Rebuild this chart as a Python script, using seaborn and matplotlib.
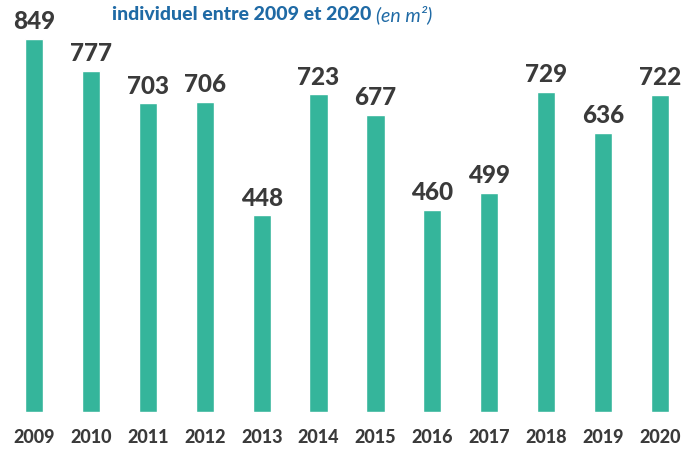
import matplotlib
matplotlib.use("Agg")
import matplotlib.pyplot as plt
import seaborn as sns
import pandas as pd

years = ["2009", "2010", "2011", "2012", "2013", "2014", "2015", "2016", "2017", "2018", "2019", "2020"]
values = [849, 777, 703, 706, 448, 723, 677, 460, 499, 729, 636, 722]
title_main = "individuel entre 2009 et 2020"
title_unit = "(en m²)"

sns.set_theme(style="white")
plt.rcParams['font.family'] = ['Lato', 'DejaVu Sans']

df = pd.DataFrame({"year": years, "value": values})

fig = plt.figure(figsize=(6.89, 4.5), dpi=100)
ax = fig.add_axes([5.5 / 689, (450 - 412) / 450, 683 / 689, 412 / 450])
sns.barplot(data=df, x="year", y="value", color="#35B59B", saturation=1, width=0.32, ax=ax)
ax.set_xlim(-0.5, 11.5)
ax.set_ylim(0, 412 / 0.4393)
for s in ax.spines.values():
    s.set_visible(False)
ax.set_xlabel("")
ax.set_ylabel("")
ax.set_yticks([])
ax.tick_params(axis="x", length=0, pad=12, labelsize=13, labelcolor="#3a3a3a")
for lab in ax.get_xticklabels():
    lab.set_fontweight("black")

for i, v in enumerate(values):
    ax.annotate(str(v), (i, v), xytext=(0, 4), textcoords="offset points",
                ha="center", va="bottom", fontsize=17.5, fontweight="black", color="#3a3a3a")

t1 = fig.text(112 / 689, 1 - 15 / 450, title_main + " ", ha="left", va="center",
              fontsize=14, fontweight="black", color="#1F6AA5")
fig.canvas.draw()
bb = t1.get_window_extent()
fig.text(bb.x1 / fig.bbox.width, 1 - 15 / 450, title_unit, ha="left", va="center",
         fontsize=14, fontstyle="italic", color="#1F6AA5")

fig.savefig("out.png", dpi=100)
